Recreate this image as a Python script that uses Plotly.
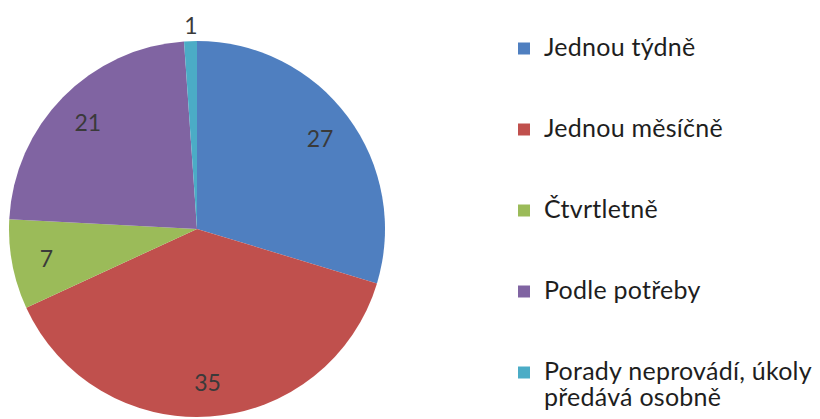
import plotly.graph_objects as go

categories = ["Jednou týdně", "Jednou měsíčně", "Čtvrtletně", "Podle potřeby",
              "Porady neprovádí, úkoly<br>předává osobně"]
values = [27, 35, 7, 21, 1]
colors = ["#4F7FC0", "#C0504D", "#9BBB59", "#8064A2", "#4BACC6"]
inside_labels = [True, True, True, True, False]

# the page body adds an 8px margin, so the figure is sized to fit the window
W, H = 812, 411
LEG_SPAN = "<span style='font-size:25px;letter-spacing:0.25px'>{}</span>"


def legend_text(c):
    lines = c.split("<br>")
    body = "<br>".join(LEG_SPAN.format(l) for l in lines)
    pad = 3 - len(lines)
    return body + "<br> " * pad


legend_labels = [legend_text(c) for c in categories]

dom_x = [1 / W, 377 / W]
dom_y = [2 / H, 378 / H]
transparent = ["rgba(0,0,0,0)"] * len(values)

fig = go.Figure()

# main pie
fig.add_trace(go.Pie(
    labels=legend_labels,
    values=values,
    sort=False,
    direction="clockwise",
    rotation=0,
    marker=dict(colors=colors, line=dict(width=0)),
    textinfo="none",
    domain=dict(x=dom_x, y=dom_y),
    hoverinfo="label+value",
))

# inside value labels (placed in a ring so they sit toward the rim)
fig.add_trace(go.Pie(
    labels=legend_labels,
    values=values,
    sort=False,
    direction="clockwise",
    rotation=0,
    hole=0.63,
    marker=dict(colors=transparent, line=dict(width=0)),
    texttemplate=["%{value}" if f else "" for f in inside_labels],
    textposition="inside",
    insidetextorientation="horizontal",
    textfont=dict(family="Lato", size=23, color="#3a3a3a"),
    domain=dict(x=dom_x, y=dom_y),
    showlegend=False,
    hoverinfo="skip",
))

# outside value label
fig.add_trace(go.Pie(
    labels=legend_labels,
    values=values,
    sort=False,
    direction="clockwise",
    rotation=0,
    marker=dict(colors=transparent, line=dict(width=0)),
    texttemplate=["" if f else "%{value}" for f in inside_labels],
    textposition="outside",
    textfont=dict(family="Lato", size=23, color="#3a3a3a"),
    domain=dict(x=[dom_x[0] + 14 / W, dom_x[1] + 14 / W],
                y=[dom_y[0] + 2 / H, dom_y[1] + 2 / H]),
    showlegend=False,
    hoverinfo="skip",
))

fig.update_layout(
    width=W, height=H,
    margin=dict(l=0, r=0, t=0, b=0, autoexpand=False),
    paper_bgcolor="white",
    plot_bgcolor="white",
    uniformtext=dict(minsize=23, mode="show"),
    legend=dict(
        x=496 / W, y=1 - 21 / H, xanchor="left", yanchor="top",
        font=dict(family="Lato", size=20, color="#1e1e1e"),
        valign="top",
        itemwidth=30,
        bgcolor="rgba(0,0,0,0)",
    ),
)

fig.write_html("out.html")
